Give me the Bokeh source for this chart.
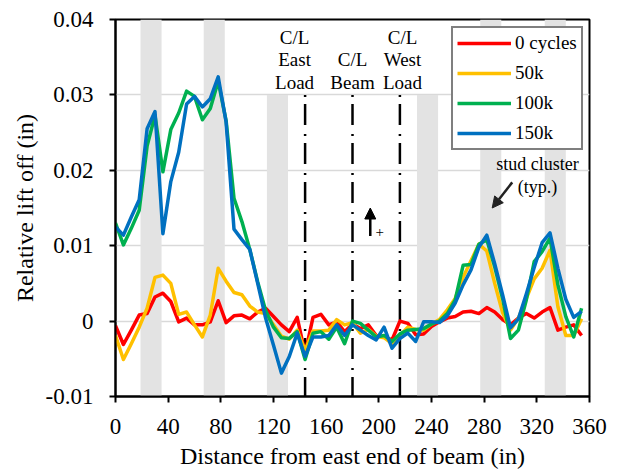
from bokeh.plotting import figure
from bokeh.models import (Range1d, FixedTicker, CustomJSTickFormatter, Legend, LegendItem,
                          Label, Arrow, NormalHead)
from bokeh.embed import file_html
from bokeh.resources import INLINE

# ---------------- data ----------------
distance = [0, 6, 12, 18, 24, 30, 36, 42, 48, 54, 60, 66, 72, 78, 84, 90, 96, 102, 108, 114,
            120, 126, 132, 138, 144, 150, 156, 162, 168, 174, 180, 186, 192, 198, 204, 210,
            216, 222, 228, 234, 240, 246, 252, 258, 264, 270, 276, 282, 288, 294, 300, 306,
            312, 318, 324, 330, 336, 342, 348, 354]

lift_0 = [-0.0006, -0.0031, -0.0012, 0.0008, 0.0010, 0.0032, 0.0037, 0.0026, -0.0001, 0.0004,
          -0.0005, -0.0005, -0.0001, 0.0027, -0.0002, 0.0007, 0.0008, 0.0003, 0.0012, 0.0017,
          0.0006, -0.0005, -0.0014, 0.0005, -0.0043, 0.0005, 0.0009, -0.0005, -0.0001, -0.0014,
          -0.0004, -0.0010, -0.0005, -0.0019, -0.0021, -0.0025, 0.0000, -0.0003, -0.0018, -0.0017,
          -0.0007, -0.0001, 0.0004, 0.0006, 0.0012, 0.0013, 0.0010, 0.0018, 0.0012, 0.0002,
          -0.0005, 0.0004, 0.0010, 0.0004, 0.0012, 0.0018, -0.0012, -0.0008, -0.0005, -0.0019]

lift_50k = [-0.0019, -0.0051, -0.0030, -0.0008, 0.0017, 0.0058, 0.0061, 0.0050, 0.0009, 0.0012,
            -0.0005, -0.0021, 0.0008, 0.0070, 0.0053, 0.0038, 0.0035, 0.0020, 0.0012, 0.0010,
            -0.0005, -0.0020, -0.0024, -0.0012, -0.0039, -0.0013, -0.0013, -0.0012, 0.0002, -0.0005,
            -0.0002, -0.0016, -0.0011, -0.0020, -0.0022, -0.0030, -0.0019, -0.0008, -0.0011, -0.0012,
            -0.0004, 0.0002, 0.0015, 0.0030, 0.0058, 0.0080, 0.0102, 0.0093, 0.0050, 0.0011,
            -0.0012, 0.0004, 0.0030, 0.0056, 0.0070, 0.0094, 0.0019, -0.0019, -0.0019, 0.0003]

lift_100k = [0.0130, 0.0101, 0.0123, 0.0147, 0.0232, 0.0273, 0.0198, 0.0254, 0.0276, 0.0305,
             0.0298, 0.0267, 0.0282, 0.0318, 0.0266, 0.0163, 0.0132, 0.0095, 0.0052, 0.0014,
             -0.0008, -0.0022, -0.0023, -0.0014, -0.0051, -0.0016, -0.0014, -0.0024, -0.0008, -0.0030,
             0.0000, -0.0003, -0.0012, -0.0021, -0.0019, -0.0027, -0.0017, -0.0012, -0.0011, -0.0010,
             -0.0004, 0.0000, 0.0010, 0.0028, 0.0074, 0.0075, 0.0102, 0.0108, 0.0072, 0.0030,
             -0.0023, -0.0012, 0.0028, 0.0079, 0.0092, 0.0110, 0.0048, 0.0006, -0.0021, 0.0017]

lift_150k = [0.0125, 0.0114, 0.0138, 0.0161, 0.0255, 0.0278, 0.0116, 0.0185, 0.0224, 0.0288,
             0.0298, 0.0284, 0.0295, 0.0324, 0.0264, 0.0122, 0.0108, 0.0095, 0.0050, 0.0004,
             -0.0032, -0.0069, -0.0047, -0.0016, -0.0047, -0.0021, -0.0021, -0.0019, -0.0005, -0.0019,
             -0.0005, -0.0012, -0.0019, -0.0025, -0.0008, -0.0036, -0.0023, -0.0016, -0.0027, -0.0001,
             -0.0001, -0.0002, 0.0007, 0.0024, 0.0048, 0.0068, 0.0098, 0.0114, 0.0076, 0.0035,
             -0.0009, 0.0003, 0.0036, 0.0071, 0.0104, 0.0117, 0.0070, 0.0029, 0.0005, 0.0013]

series_names = ["0 cycles", "50k", "100k", "150k"]
series_colors = ["#FF0000", "#FFC000", "#00B050", "#0070C0"]

# stud cluster bands (in)
band_left = [19, 67, 115, 229, 277, 326]
band_right = [35, 83, 131, 245, 293, 342]
band_top = [0.04, 0.04, 0.03, 0.03, 0.04, 0.04]

# centre lines (in)
cl_x = [144, 180, 216]

x_ticks = [0, 40, 80, 120, 160, 200, 240, 280, 320, 360]
y_ticks = [-0.01, 0, 0.01, 0.02, 0.03, 0.04]

FONT = "Liberation Serif"

# ---------------- figure ----------------
p = figure(width=619, height=472, output_backend="svg", toolbar_location=None,
           x_range=Range1d(0, 360), y_range=Range1d(-0.01, 0.04),
           min_border_left=115, min_border_right=30, min_border_top=19, min_border_bottom=76)
p.background_fill_color = "white"
p.border_fill_color = "white"
p.outline_line_color = "black"
p.outline_line_width = 2

p.xgrid.visible = False
p.ygrid.grid_line_color = "#D9D9D9"
p.ygrid.grid_line_width = 1.5

p.xaxis.ticker = FixedTicker(ticks=x_ticks)
p.yaxis.ticker = FixedTicker(ticks=y_ticks)
p.yaxis.formatter = CustomJSTickFormatter(code="return Math.abs(tick) < 1e-9 ? '0' : tick.toFixed(2);")

for ax in (p.xaxis[0], p.yaxis[0]):
    ax.axis_line_color = "black"
    ax.axis_line_width = 2
    ax.major_tick_line_color = "black"
    ax.major_tick_line_width = 2
    ax.major_tick_out = 6
    ax.major_tick_in = 0
    ax.minor_tick_line_color = None
    ax.major_label_text_font = FONT
    ax.major_label_text_font_size = "23px"
    ax.major_label_text_color = "black"
    ax.axis_label_text_font = FONT
    ax.axis_label_text_font_size = "24px"
    ax.axis_label_text_font_style = "normal"
    ax.axis_label_text_color = "black"

p.xaxis.axis_label = "Distance from east end of beam (in)"
p.yaxis.axis_label = "Relative lift off (in)"
p.xaxis.major_label_standoff = 16
p.xaxis.axis_label_standoff = 6
p.yaxis.major_label_standoff = 16
p.yaxis.axis_label_standoff = 5

# stud-cluster bands
p.quad(left=band_left, right=band_right, bottom=-0.01, top=band_top,
       fill_color="#E3E3E3", line_color=None)

# centre lines
p.segment(x0=cl_x, y0=0.03, x1=cl_x, y1=-0.01, line_color="black",
          line_width=2.5, line_dash="2 7 21 9")

# series
series = [lift_0, lift_50k, lift_100k, lift_150k]
items = []
for name, color, vals in zip(series_names, series_colors, series):
    r = p.line(distance, vals, line_color=color, line_width=3.5, line_join="round")
    items.append(LegendItem(label=name, renderers=[r]))

legend = Legend(items=items, location=(336, 246), margin=0, padding=4, spacing=8,
                glyph_width=54, glyph_height=22, label_height=22, label_standoff=4,
                border_line_color="black", border_line_width=2,
                background_fill_color="white", background_fill_alpha=1.0,
                label_text_font=FONT, label_text_font_size="19px", label_text_color="black")
p.add_layout(legend)

# annotations
def lab(x, y, text, size="19px"):
    p.add_layout(Label(x=x, y=y, text=text, text_align="center", text_baseline="middle",
                       text_font=FONT, text_font_size=size, text_color="black"))

lab(136, 0.0376, "C/L")
lab(136, 0.0347, "East")
lab(136, 0.0317, "Load")
lab(180, 0.0347, "C/L")
lab(180, 0.0317, "Beam")
lab(218, 0.0376, "C/L")
lab(218, 0.0347, "West")
lab(218, 0.0317, "Load")
lab(320.5, 0.0208, "stud cluster", "18px")
lab(320.5, 0.0178, "(typ.)", "18px")
lab(200.7, 0.0118, "+", "15px")

p.add_layout(Arrow(end=NormalHead(size=11, fill_color="black", line_color="black"),
                   x_start=193.5, y_start=0.0113, x_end=193.5, y_end=0.0150,
                   line_width=2.5, line_color="black"))
p.add_layout(Arrow(end=NormalHead(size=11, fill_color="#222222", line_color="#222222"),
                   x_start=301.3, y_start=0.0184, x_end=286.1, y_end=0.0150,
                   line_width=2.5, line_color="#222222"))

open("out.html", "w").write(file_html(p, INLINE))
